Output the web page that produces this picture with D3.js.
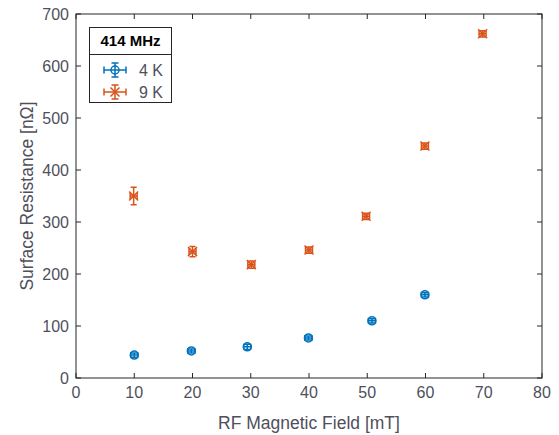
<!DOCTYPE html>
<head>
	<meta charset="UTF-8">
	<script src="https://d3js.org/d3.v7.min.js"></script>
<style>
	body{ margin: 0; background-color: white; }
	text{ font-family: 'Liberation Sans', Arial, sans-serif; }
</style>
</head>
<body>
	<svg width=559 height=435></svg>
</body>
<script>
	// Data
	var field4K = [10, 19.8, 29.4, 39.9, 50.8, 59.9];
	var rs4K = [44, 52, 60, 77, 110, 160];
	var rsErr4K = [4, 4, 5, 4, 4, 4];
	var fieldErr4K = [0.6, 0.6, 0.6, 0.6, 0.6, 0.6];

	var field9K = [9.9, 20, 30.1, 40, 49.8, 59.9, 69.8];
	var rs9K = [350, 243, 218, 246, 311, 446, 662];
	var rsErr9K = [17, 10, 7, 6, 6, 6, 6];
	var fieldErr9K = [0.6, 0.6, 0.6, 0.6, 0.6, 0.6, 0.6];

	var xTicks = [0, 10, 20, 30, 40, 50, 60, 70, 80];
	var yTicks = [0, 100, 200, 300, 400, 500, 600, 700];

	var blue = "#0072BD", orange = "#D95319";
	var axisColor = "#262626", textColor = "#4f4f5c";

	// plot area (note: "top" is reserved on window, so use explicit names)
	var plotLeft = 76, plotRight = 542, plotTop = 14, plotBottom = 378;

	var svg = d3.select("svg");

	var x = d3.scaleLinear().domain([0, 80]).range([plotLeft, plotRight]);
	var y = d3.scaleLinear().domain([0, 700]).range([plotBottom, plotTop]);

	// Box and ticks (MATLAB style, ticks inward on all sides)
	var axes = svg.append("g");
	axes.append("rect")
		.attr("x", plotLeft).attr("y", plotTop)
		.attr("width", plotRight - plotLeft).attr("height", plotBottom - plotTop)
		.attr("fill", "none").attr("stroke", axisColor).attr("stroke-width", 1);

	var tickLen = 5;
	xTicks.forEach(function(t){
		axes.append("line").attr("x1", x(t)).attr("x2", x(t)).attr("y1", plotBottom).attr("y2", plotBottom - tickLen)
			.attr("stroke", axisColor);
		axes.append("line").attr("x1", x(t)).attr("x2", x(t)).attr("y1", plotTop).attr("y2", plotTop + tickLen)
			.attr("stroke", axisColor);
		axes.append("text").attr("x", x(t)).attr("y", plotBottom + 20)
			.attr("text-anchor", "middle").attr("font-size", "16px").attr("fill", textColor)
			.text(t);
	});
	yTicks.forEach(function(t){
		axes.append("line").attr("x1", plotLeft).attr("x2", plotLeft + tickLen).attr("y1", y(t)).attr("y2", y(t))
			.attr("stroke", axisColor);
		axes.append("line").attr("x1", plotRight).attr("x2", plotRight - tickLen).attr("y1", y(t)).attr("y2", y(t))
			.attr("stroke", axisColor);
		axes.append("text").attr("x", plotLeft - 7).attr("y", y(t)).attr("dy", "0.35em")
			.attr("text-anchor", "end").attr("font-size", "16px").attr("fill", textColor)
			.text(t);
	});

	// Axis titles
	svg.append("text").attr("x", (plotLeft + plotRight) / 2).attr("y", 429)
		.attr("text-anchor", "middle").attr("font-size", "17.5px").attr("fill", textColor)
		.text("RF Magnetic Field [mT]");
	svg.append("text")
		.attr("transform", "translate(33," + ((plotTop + plotBottom) / 2) + ") rotate(-90)")
		.attr("text-anchor", "middle").attr("font-size", "17.5px").attr("fill", textColor)
		.text("Surface Resistance [nΩ]");

	// Error bar drawing
	function errorBars(g, xs, ys, xe, ye, color){
		var cap = 3;
		xs.forEach(function(xv, i){
			var cx = x(xv), cy = y(ys[i]);
			var y1 = y(ys[i] + ye[i]), y2 = y(ys[i] - ye[i]);
			var x1 = x(xv - xe[i]), x2 = x(xv + xe[i]);
			var path = "M" + cx + "," + y1 + "V" + y2 +
				"M" + (cx - cap) + "," + y1 + "H" + (cx + cap) +
				"M" + (cx - cap) + "," + y2 + "H" + (cx + cap) +
				"M" + x1 + "," + cy + "H" + x2 +
				"M" + x1 + "," + (cy - cap) + "V" + (cy + cap) +
				"M" + x2 + "," + (cy - cap) + "V" + (cy + cap);
			g.append("path").attr("d", path).attr("stroke", color).attr("stroke-width", 1.5).attr("fill", "none");
		});
	}

	function circleMarker(g, cx, cy, color){
		g.append("circle").attr("cx", cx).attr("cy", cy).attr("r", 4)
			.attr("fill", "none").attr("stroke", color).attr("stroke-width", 1.5);
	}
	function crossMarker(g, cx, cy, color){
		var s = 4.5;
		g.append("path")
			.attr("d", "M" + (cx - s) + "," + (cy - s) + "L" + (cx + s) + "," + (cy + s) +
				"M" + (cx - s) + "," + (cy + s) + "L" + (cx + s) + "," + (cy - s))
			.attr("stroke", color).attr("stroke-width", 1.5).attr("fill", "none");
	}

	var marks = svg.append("g");
	errorBars(marks, field4K, rs4K, fieldErr4K, rsErr4K, blue);
	field4K.forEach(function(f, i){ circleMarker(marks, x(f), y(rs4K[i]), blue); });
	errorBars(marks, field9K, rs9K, fieldErr9K, rsErr9K, orange);
	field9K.forEach(function(f, i){ crossMarker(marks, x(f), y(rs9K[i]), orange); });

	// Legend
	var leg = svg.append("g");
	leg.append("rect").attr("x", 89.5).attr("y", 27.5).attr("width", 82).attr("height", 75)
		.attr("fill", "white").attr("stroke", axisColor).attr("stroke-width", 1);
	leg.append("line").attr("x1", 89.5).attr("x2", 171.5).attr("y1", 54.5).attr("y2", 54.5)
		.attr("stroke", axisColor);
	leg.append("text").attr("x", 130.5).attr("y", 46).attr("text-anchor", "middle")
		.attr("font-size", "15px").attr("font-weight", "bold").attr("fill", "#000")
		.text("414 MHz");

	var legendItems = [
		{label: "4 K", color: blue, marker: circleMarker, cy: 70},
		{label: "9 K", color: orange, marker: crossMarker, cy: 92}
	];
	legendItems.forEach(function(d){
		var cx = 115, cap = 3.5;
		var path = "M" + (cx - 11) + "," + d.cy + "H" + (cx + 11) +
			"M" + (cx - 11) + "," + (d.cy - cap) + "V" + (d.cy + cap) +
			"M" + (cx + 11) + "," + (d.cy - cap) + "V" + (d.cy + cap) +
			"M" + cx + "," + (d.cy - 7) + "V" + (d.cy + 7) +
			"M" + (cx - cap) + "," + (d.cy - 7) + "H" + (cx + cap) +
			"M" + (cx - cap) + "," + (d.cy + 7) + "H" + (cx + cap);
		leg.append("path").attr("d", path).attr("stroke", d.color).attr("stroke-width", 1.5).attr("fill", "none");
		d.marker(leg, cx, d.cy, d.color);
		leg.append("text").attr("x", 139).attr("y", d.cy).attr("dy", "0.35em")
			.attr("font-size", "16px").attr("fill", textColor).text(d.label);
	});
</script>
